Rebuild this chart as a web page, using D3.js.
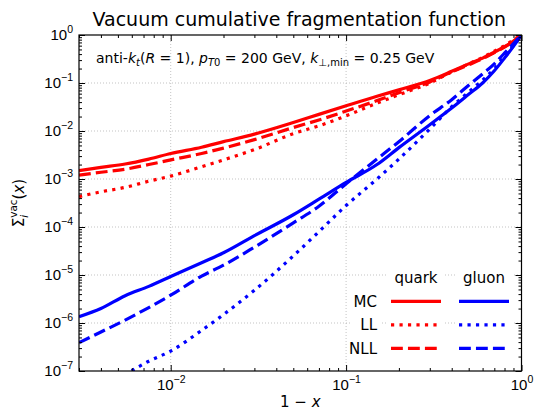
<!DOCTYPE html>
<html>
<head>
<meta charset="utf-8">
<script src="https://cdn.jsdelivr.net/npm/d3@7"></script>
<style>
  body { margin: 0; background: #fff; }
  svg { display: block; font-family: "DejaVu Sans", sans-serif; }
  text { white-space: pre; }
</style>
</head>
<body>
<svg width="534" height="411"></svg>
<script>
// 1 - x sample points and the cumulative fragmentation values
const oneMinusX = [0.003, 0.004, 0.0055, 0.0075, 0.01, 0.015, 0.02, 0.03, 0.05, 0.07, 0.1, 0.15, 0.2, 0.3, 0.4, 0.5, 0.6, 0.7, 0.8, 0.9, 1.0];

const quarkMC  = [1.5e-3, 1.75e-3, 2.05e-3, 2.6e-3, 3.4e-3, 4.6e-3, 6.0e-3, 8.6e-3, 0.0150, 0.0222, 0.0335, 0.053, 0.072, 0.113, 0.175, 0.25, 0.33, 0.44, 0.57, 0.75, 1.0];
const quarkLL  = [4.3e-4, 5.4e-4, 6.7e-4, 9.0e-4, 1.15e-3, 1.8e-3, 2.5e-3, 4.1e-3, 8.8e-3, 0.0128, 0.0207, 0.038, 0.057, 0.1, 0.17, 0.25, 0.34, 0.46, 0.6, 0.79, 1.0];
const quarkNLL = [1.2e-3, 1.38e-3, 1.6e-3, 2.0e-3, 2.5e-3, 3.4e-3, 4.4e-3, 6.6e-3, 0.0118, 0.017, 0.026, 0.043, 0.063, 0.105, 0.17, 0.24, 0.32, 0.43, 0.56, 0.74, 1.0];

const gluonMC  = [1.35e-6, 2.0e-6, 3.7e-6, 5.8e-6, 9.3e-6, 1.8e-5, 2.9e-5, 6.6e-5, 1.8e-4, 3.8e-4, 8.5e-4, 2.0e-3, 4.5e-3, 0.0135, 0.03, 0.058, 0.1, 0.18, 0.33, 0.58, 1.0];
const gluonLL  = [2.7e-8, 4.6e-8, 8.5e-8, 1.6e-7, 2.6e-7, 7.0e-7, 1.5e-6, 4.8e-6, 2.5e-5, 8.0e-5, 2.8e-4, 1.0e-3, 2.6e-3, 0.011, 0.032, 0.065, 0.115, 0.2, 0.36, 0.6, 1.0];
const gluonNLL = [3.9e-7, 6.5e-7, 1.15e-6, 2.1e-6, 3.8e-6, 9.5e-6, 1.6e-5, 3.8e-5, 1.22e-4, 2.7e-4, 8.0e-4, 2.6e-3, 6.0e-3, 0.021, 0.045, 0.09, 0.155, 0.25, 0.42, 0.66, 1.0];

// tick labels (powers of ten)
const xTickExp = [-2, -1, 0];
const yTickExp = [-7, -6, -5, -4, -3, -2, -1, 0];

const series = [
    { name: "quark MC",  values: quarkMC,  color: "#ff0000", style: "solid" },
    { name: "quark LL",  values: quarkLL,  color: "#ff0000", style: "dotted" },
    { name: "quark NLL", values: quarkNLL, color: "#ff0000", style: "dashed" },
    { name: "gluon MC",  values: gluonMC,  color: "#0000ff", style: "solid" },
    { name: "gluon LL",  values: gluonLL,  color: "#0000ff", style: "dotted" },
    { name: "gluon NLL", values: gluonNLL, color: "#0000ff", style: "dashed" }
];

const lw = 3.2;
const dash = { solid: null, dotted: `${lw} ${1.65 * lw}`, dashed: `${3.7 * lw} ${1.6 * lw}` };

const svg = d3.select("svg"),
    margin = { top: 35, right: 12.5, bottom: 40, left: 79 },
    width = 534 - margin.left - margin.right,
    height = 411 - margin.top - margin.bottom,
    g = svg.append("g").attr("transform", `translate(${margin.left},${margin.top})`);

svg.insert("rect", ":first-child").attr("width", 534).attr("height", 411).attr("fill", "#fff");

// Scales
const x = d3.scaleLog().domain([0.003, 1]).range([0, width]);
const y = d3.scaleLog().domain([1e-7, 1]).range([height, 0]);

const xMajor = xTickExp.map(e => Math.pow(10, e));
const yMajor = yTickExp.map(e => Math.pow(10, e));
const isMajor = v => Math.abs(Math.log10(v) - Math.round(Math.log10(v))) < 1e-9;
const xMinor = x.ticks().filter(v => !isMajor(v));
const yMinor = y.ticks().filter(v => !isMajor(v));

// Grid
g.append("g").selectAll("line").data(xMajor.filter(v => v < 1)).enter().append("line")
    .attr("x1", d => x(d)).attr("x2", d => x(d)).attr("y1", 0).attr("y2", height)
    .attr("stroke", "#aaa").attr("stroke-width", 0.7).attr("stroke-dasharray", "1 2");
g.append("g").selectAll("line").data(yMajor.filter(v => v < 1 && v > 1e-7)).enter().append("line")
    .attr("x1", 0).attr("x2", width).attr("y1", d => y(d)).attr("y2", d => y(d))
    .attr("stroke", "#aaa").attr("stroke-width", 0.7).attr("stroke-dasharray", "1 2");

// Curves
g.append("clipPath").attr("id", "clip").append("rect").attr("width", width).attr("height", height);

const line = d3.line()
    .x((d, i) => x(oneMinusX[i]))
    .y(d => y(d))
    .curve(d3.curveMonotoneX);

g.append("g").attr("clip-path", "url(#clip)")
    .selectAll("path").data(series).enter().append("path")
    .attr("d", d => line(d.values))
    .attr("fill", "none")
    .attr("stroke", d => d.color)
    .attr("stroke-width", lw)
    .attr("stroke-dasharray", d => dash[d.style]);

// Axes: ticks inside, on all four sides
function superscriptLabel(sel) {
    sel.each(function(d) {
        const t = d3.select(this);
        const e = Math.round(Math.log10(d));
        t.text(null);
        t.append("tspan").text("10");
        t.append("tspan").attr("dy", -6.5).attr("font-size", 10.5)
            .text(e < 0 ? "\u2212" + (-e) : String(e));
    });
}

const yAxis = g.append("g")
    .call(d3.axisLeft(y).tickValues(yMajor).tickSizeInner(-6).tickSizeOuter(0).tickPadding(6).tickFormat(""));
yAxis.selectAll(".tick text").attr("font-size", 15).attr("fill", "#000").attr("dy", "0.28em").call(superscriptLabel);
g.append("g").call(d3.axisLeft(y).tickValues(yMinor).tickSizeInner(-3).tickSizeOuter(0).tickFormat(""));
g.append("g").attr("transform", `translate(${width},0)`)
    .call(d3.axisRight(y).tickValues(yMajor).tickSizeInner(-6).tickSizeOuter(0).tickFormat(""));
g.append("g").attr("transform", `translate(${width},0)`)
    .call(d3.axisRight(y).tickValues(yMinor).tickSizeInner(-3).tickSizeOuter(0).tickFormat(""));

const xAxis = g.append("g").attr("transform", `translate(0,${height})`)
    .call(d3.axisBottom(x).tickValues(xMajor).tickSizeInner(-6).tickSizeOuter(0).tickPadding(8).tickFormat(""));
xAxis.selectAll(".tick text").attr("font-size", 15).attr("fill", "#000").call(superscriptLabel);
g.append("g").attr("transform", `translate(0,${height})`)
    .call(d3.axisBottom(x).tickValues(xMinor).tickSizeInner(-3).tickSizeOuter(0).tickFormat(""));
g.append("g").call(d3.axisTop(x).tickValues(xMajor).tickSizeInner(-6).tickSizeOuter(0).tickFormat(""));
g.append("g").call(d3.axisTop(x).tickValues(xMinor).tickSizeInner(-3).tickSizeOuter(0).tickFormat(""));

g.selectAll(".domain").remove();
g.selectAll(".tick line").attr("stroke", "#000").attr("stroke-width", 1);

g.append("rect").attr("width", width).attr("height", height)
    .attr("fill", "none").attr("stroke", "#000").attr("stroke-width", 1.2);

// Title and axis labels
svg.append("text").attr("x", margin.left + width / 2 - 1).attr("y", 26)
    .attr("text-anchor", "middle").attr("font-size", 19).text("Vacuum cumulative fragmentation function");

svg.append("text").attr("x", margin.left + width / 2).attr("y", 407)
    .attr("text-anchor", "middle").attr("font-size", 15)
    .call(t => {
        t.append("tspan").text("1 \u2212 ");
        t.append("tspan").attr("font-style", "italic").text("x");
    });

const yl = svg.append("text")
    .attr("transform", `translate(24,${margin.top + height / 2}) rotate(-90)`)
    .attr("text-anchor", "middle").attr("font-size", 15);
yl.append("tspan").text("\u03a3");
yl.append("tspan").attr("font-style", "italic").attr("font-size", 10.5).attr("dy", 4).text("i");
yl.append("tspan").attr("font-size", 10.5).attr("dx", -3).attr("dy", -11).text("vac");
yl.append("tspan").attr("dy", 7).text("(");
yl.append("tspan").attr("font-style", "italic").text("x");
yl.append("tspan").text(")");

// Annotation
const ann = svg.append("text").attr("x", 96).attr("y", 63).attr("font-size", 14);
ann.append("tspan").text("anti-");
ann.append("tspan").attr("font-style", "italic").text("k");
ann.append("tspan").attr("font-style", "italic").attr("font-size", 10).attr("dy", 3).text("t");
ann.append("tspan").attr("dy", -3).text("(");
ann.append("tspan").attr("font-style", "italic").text("R");
ann.append("tspan").text(" = 1), ");
ann.append("tspan").attr("font-style", "italic").text("p");
ann.append("tspan").attr("font-style", "italic").attr("font-size", 10).attr("dy", 3).text("T");
ann.append("tspan").attr("font-size", 10).text("0");
ann.append("tspan").attr("dy", -3).text(" = 200 GeV, ");
ann.append("tspan").attr("font-style", "italic").text("k");
ann.append("tspan").attr("font-size", 10).attr("dy", 3).text("\u22a5,min");
ann.append("tspan").attr("dy", -3).text(" = 0.25 GeV");

// Legend (table of quark / gluon columns)
const rows = ["MC", "LL", "NLL"];
const styles = ["solid", "dotted", "dashed"];
const cols = [{ label: "quark", color: "#ff0000", x0: 391, x1: 441 }, { label: "gluon", color: "#0000ff", x0: 459, x1: 509 }];
const legend = svg.append("g");

legend.selectAll("rect.bg").data(cols).enter().append("rect")
    .attr("x", d => d.x0 - 3).attr("y", 264).attr("width", d => d.x1 - d.x0 + 6).attr("height", 92).attr("fill", "#fff");
legend.append("rect").attr("x", 350).attr("y", 290).attr("width", 31).attr("height", 66).attr("fill", "#fff");

legend.selectAll("text.col").data(cols).enter().append("text")
    .attr("x", d => (d.x0 + d.x1) / 2).attr("y", 283).attr("text-anchor", "middle").attr("font-size", 15)
    .text(d => d.label);
legend.selectAll("text.row").data(rows).enter().append("text")
    .attr("x", 377).attr("y", (d, i) => 306.5 + i * 23.5).attr("text-anchor", "end").attr("font-size", 15)
    .text(d => d);

cols.forEach(c => {
    legend.selectAll(null).data(styles).enter().append("line")
        .attr("x1", c.x0).attr("x2", c.x1)
        .attr("y1", (d, i) => 301.3 + i * 23.5).attr("y2", (d, i) => 301.3 + i * 23.5)
        .attr("stroke", c.color).attr("stroke-width", lw)
        .attr("stroke-dasharray", d => dash[d]);
});
</script>
</body>
</html>
